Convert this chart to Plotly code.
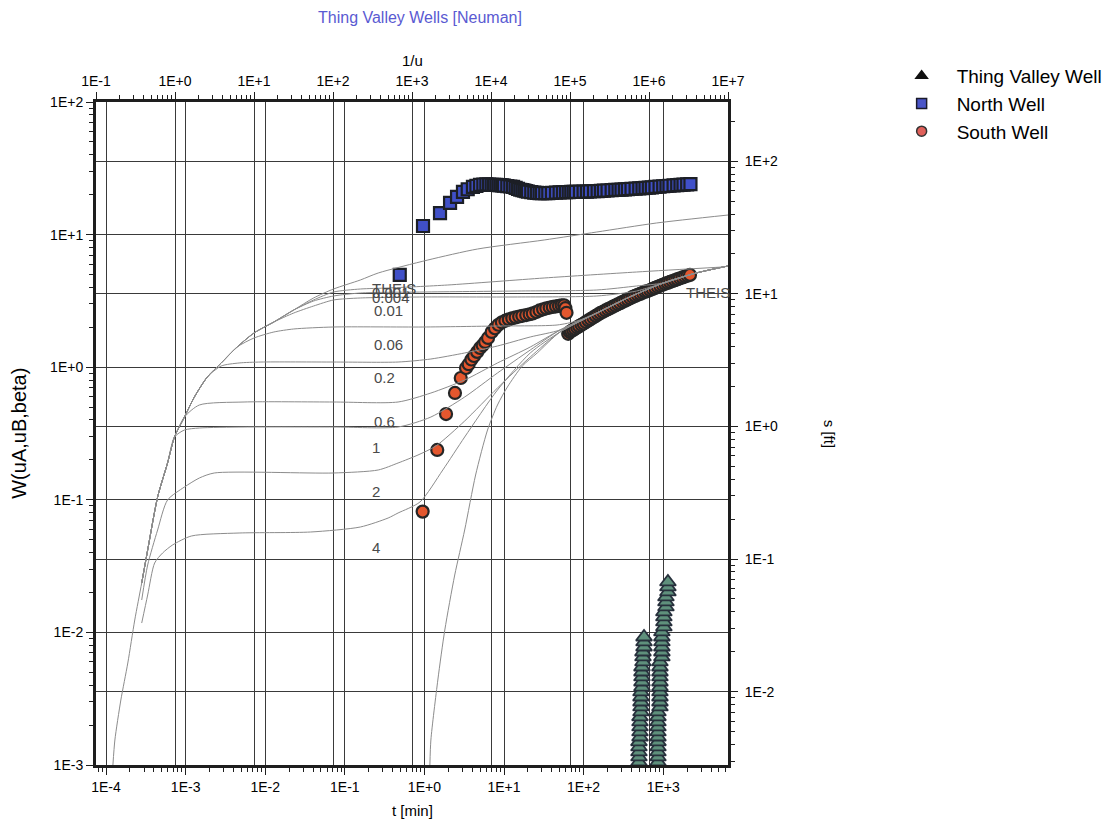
import plotly.graph_objects as go

# ---------------- observed drawdown data: t [min], s [ft] ----------------
north_t = [0.49, 0.96, 1.57, 2.1, 2.57, 3.05, 3.5, 4.07, 4.5, 5.0, 5.5, 6, 6.5, 7, 7.5, 8, 8.5, 9, 9.5, 10, 11,
           12, 13, 14, 15, 16, 17, 18, 19, 20, 22, 24, 26, 28, 30, 33, 36, 40, 45, 50, 55, 60, 65, 70, 75, 80,
           90, 100, 110, 120, 135, 150, 165, 180, 200, 225, 250, 275, 300, 330, 360, 400, 450, 500, 550, 600,
           660, 720, 800, 900, 1000, 1100, 1200, 1350, 1500, 1650, 1800, 2000, 2200]
north_s = [13.9, 32.5, 40.7, 48.5, 53.8, 58.7, 61.5, 64, 65.3, 66.3, 66.8, 67, 66.8, 66.5, 66.4, 66.3, 66.2,
           66, 65.8, 65.5, 65, 64.5, 64, 63, 62, 61, 60.5, 60, 59.5, 59, 58.5, 58, 57.8, 57.6, 57.5, 57.5, 57.6,
           57.8, 58, 58.2, 58.4, 58.5, 58.6, 58.7, 58.75, 58.8, 58.9, 59, 59.1, 59.2, 59.4, 59.6, 59.8, 60,
           60.2, 60.5, 60.8, 61, 61.2, 61.4, 61.6, 61.9, 62.2, 62.5, 62.8, 63, 63.3, 63.6, 64, 64.4, 64.8,
           65.1, 65.4, 65.8, 66.1, 66.4, 66.7, 67, 67.3]

south_t = [0.95, 1.45, 1.87, 2.42, 2.86, 3.33, 3.6, 3.9, 4.2, 4.6, 5.0, 5.4, 5.8, 6.3, 7.0, 7.7, 8.5, 9.4,
           10.4, 11.5, 12.7, 14, 15.5, 17, 19, 21, 23, 25.5, 28, 31, 34, 37.5, 41, 45, 49, 53, 57, 59, 61,
           64, 67, 70, 74, 78, 83, 88, 94, 100, 107, 115, 123, 132, 142, 152, 163, 175, 188, 202, 217, 233,
           250, 268, 288, 310, 333, 358, 385, 414, 445, 478, 514, 552, 593, 637, 685, 736, 791, 850, 914,
           982, 1055, 1134, 1219, 1310, 1408, 1513, 1626, 1748, 1879, 2020, 2170]
south_s = [0.228, 0.665, 1.24, 1.79, 2.32, 2.76, 2.95, 3.2, 3.4, 3.65, 3.91, 4.1, 4.34, 4.65, 5.16, 5.5, 5.85,
           6.1, 6.28, 6.42, 6.55, 6.65, 6.75, 6.83, 6.92, 7.02, 7.12, 7.3, 7.5, 7.65, 7.78, 7.88, 7.97, 8.05,
           8.12, 8.2, 8.2, 7.8, 7.2,
           5.0, 5.15, 5.24, 5.35, 5.46, 5.58, 5.71, 5.85, 5.98, 6.14, 6.31, 6.47, 6.64, 6.82, 7.0, 7.18, 7.33,
           7.5, 7.66, 7.82, 8.0, 8.17, 8.34, 8.51, 8.71, 8.89, 9.08, 9.27, 9.48, 9.66, 9.84, 10.0, 10.2, 10.4,
           10.5, 10.7, 10.9, 11.1, 11.3, 11.5, 11.7, 11.9, 12.1, 12.3, 12.5, 12.7, 12.9, 13.1, 13.3, 13.5,
           13.7, 13.9]

tv_t = [496, 496, 496, 496, 496, 511, 511, 511, 511, 511, 526, 526, 526, 526, 526, 541, 541, 541, 541, 541,
        557, 557, 557, 574, 574, 574,
        859, 859, 859, 859, 859, 859, 859, 859, 859, 859, 859, 910, 910, 910, 910, 910, 910, 910, 910, 910,
        910, 963, 963, 963, 963, 963, 963, 1020, 1020, 1020, 1020, 1083, 1083, 1083, 1146, 1146, 1146]
tv_s = [0.00295, 0.00322, 0.00351, 0.00383, 0.00418, 0.00455, 0.00497, 0.00542, 0.00591, 0.00645, 0.00703,
        0.00767, 0.00836, 0.00912, 0.00995, 0.01084, 0.01183, 0.01291, 0.01407, 0.01535, 0.01675, 0.01827,
        0.01992, 0.02173, 0.02371, 0.02585,
        0.00295, 0.00322, 0.00351, 0.00383, 0.00418, 0.00455, 0.00497, 0.00542, 0.00591, 0.00645, 0.00703,
        0.00767, 0.00836, 0.00912, 0.00995, 0.01084, 0.01183, 0.01291, 0.01407, 0.01535, 0.01675, 0.01827,
        0.01992, 0.02173, 0.02371, 0.02585, 0.02820, 0.03076, 0.03356, 0.03660, 0.03992, 0.04355, 0.04750,
        0.05181, 0.05652, 0.06165, 0.06724]

# ---------------- Neuman type curves: 1/u, W(uA,uB,beta) ----------------
theis_early_u = [0.1637, 0.1734, 0.2063, 0.2527, 0.3094, 0.379, 0.4509, 0.6025, 0.8049, 0.9856, 1.317, 1.759,
                 2.564, 3.845, 6.112, 10.0, 17.85, 31.86, 56.85, 101.5, 221.8, 373.5, 1590, 6762, 47100,
                 218600, 1.243e6, 1.0e7]
theis_early_w = [0.0010, 0.001543, 0.003092, 0.005879, 0.01240, 0.02358, 0.04181, 0.1050, 0.1895, 0.2976,
                 0.4210, 0.5959, 0.8435, 1.076, 1.420, 1.811, 2.193, 2.701, 3.327, 3.888, 4.546, 5.133, 6.433,
                 7.787, 9.106, 10.46, 12.23, 14.05]

theis_late_u = [1684, 1734, 2123, 2601, 3474, 4642, 6383, 9036, 12070, 16130, 24900, 38450, 74850, 218600,
                568500, 1.521e6, 3.959e6, 1.0e7]
theis_late_w = [0.0010, 0.001543, 0.004375, 0.01043, 0.02709, 0.05918, 0.1538, 0.3360, 0.5187, 0.7091,
                1.021, 1.280, 1.843, 2.563, 3.385, 4.315, 5.133, 5.798]

b0001_u = [0.379, 0.4509, 0.6025, 0.8049, 0.9856, 1.317, 1.759, 2.564, 3.845, 6.112, 10.0, 17.85, 31.86,
           56.85, 101.5, 221.8, 499.0, 2837, 47100, 696200, 8.6e6]
b0001_w = [0.02358, 0.04181, 0.1050, 0.1895, 0.2976, 0.4210, 0.5959, 0.8435, 1.076, 1.420, 1.811, 2.193,
           2.701, 3.213, 3.690, 3.888, 3.956, 4.168, 4.707, 5.223, 5.698]

b0004_u = [0.379, 0.4509, 0.6025, 0.8049, 0.9856, 1.317, 1.759, 2.564, 3.845, 6.112, 10.0, 17.85, 31.86,
           56.85, 101.5, 221.8, 1375, 21540, 218600, 696200, 1.521e6, 3.959e6, 1.0e7]
b0004_w = [0.02358, 0.04181, 0.1050, 0.1895, 0.2976, 0.4210, 0.5959, 0.8435, 1.076, 1.420, 1.811, 2.193,
           2.701, 3.157, 3.443, 3.627, 3.690, 3.755, 3.821, 4.097, 4.315, 5.133, 5.798]

b001_u = [0.379, 0.4509, 0.6025, 0.8049, 0.9856, 1.317, 1.759, 2.564, 3.845, 6.112, 10.0, 17.85, 31.86,
          56.85, 101.5, 221.8, 1375, 21540, 218600, 696200, 1.521e6, 3.959e6, 1.0e7]
b001_w = [0.02358, 0.04181, 0.1050, 0.1895, 0.2976, 0.4210, 0.5959, 0.8435, 1.076, 1.420, 1.811, 2.193,
          2.563, 2.894, 3.213, 3.327, 3.385, 3.385, 3.443, 3.755, 4.315, 5.133, 5.798]

b006_u = [0.379, 0.4509, 0.6025, 0.8049, 0.9856, 1.317, 1.759, 2.564, 3.845, 6.112, 10.0, 17.85, 31.86,
          101.5, 1375, 12070, 68630, 122500, 218600, 568500, 1.521e6, 3.959e6, 1.0e7]
b006_w = [0.02358, 0.04181, 0.1050, 0.1895, 0.2976, 0.4210, 0.5959, 0.8435, 1.076, 1.420, 1.660, 1.843,
          1.942, 2.010, 2.010, 2.045, 2.081, 2.231, 2.563, 3.385, 4.315, 5.133, 5.798]

b02_u = [0.379, 0.4509, 0.6025, 0.8049, 0.9856, 1.317, 1.759, 2.564, 3.845, 6.476, 12.25, 101.5, 666.6,
         1734, 4642, 12070, 31400, 74850, 218600, 568500, 1.521e6, 3.959e6, 1.0e7]
b02_w = [0.02358, 0.04181, 0.1050, 0.1895, 0.2976, 0.4210, 0.5959, 0.8435, 1.021, 1.076, 1.094, 1.094,
         1.094, 1.153, 1.280, 1.445, 1.690, 1.908, 2.563, 3.385, 4.315, 5.133, 5.798]

b06_u = [0.379, 0.4509, 0.6025, 0.8049, 0.9856, 1.317, 2.033, 7.484, 101.5, 666.6, 1734, 4642, 12070,
         31400, 74850, 218600, 568500, 1.521e6, 3.959e6, 1.0e7]
b06_w = [0.02358, 0.04181, 0.1050, 0.1895, 0.2976, 0.4210, 0.5187, 0.5465, 0.5465, 0.5465, 0.6387, 0.8007,
         1.076, 1.420, 1.908, 2.563, 3.385, 4.315, 5.133, 5.798]

b1_u = [0.379, 0.4509, 0.6025, 0.8049, 0.9856, 1.317, 2.033, 7.484, 101.5, 666.6, 1734, 4642, 12070,
        31400, 74850, 218600, 568500, 1.521e6, 3.959e6, 1.0e7]
b1_w = [0.02358, 0.04181, 0.1050, 0.1895, 0.2976, 0.3360, 0.3479, 0.3540, 0.3540, 0.3540, 0.4210, 0.5959,
        0.9044, 1.348, 1.908, 2.563, 3.385, 4.315, 5.133, 5.798]

b2_u = [0.379, 0.4509, 0.6025, 0.8049, 1.317, 2.033, 3.140, 101.5, 373.5, 666.6, 1190, 2004, 4642, 12070,
        31400, 74850, 218600, 568500, 1.521e6, 3.959e6, 1.0e7]
b2_w = [0.01755, 0.03224, 0.05918, 0.09965, 0.1249, 0.1460, 0.1593, 0.1593, 0.1678, 0.1895, 0.2177, 0.2544,
        0.3929, 0.6968, 1.194, 1.843, 2.563, 3.385, 4.315, 5.133, 5.798]

b4_u = [0.379, 0.4509, 0.5523, 0.6964, 0.9302, 1.613, 6.476, 52.12, 221.8, 499.0, 666.6, 1261, 2454, 4642,
        12070, 31400, 74850, 218600, 568500, 1.521e6, 3.959e6, 1.0e7]
b4_w = [0.01177, 0.01914, 0.03337, 0.03970, 0.04561, 0.05333, 0.05618, 0.05717, 0.06235, 0.07290, 0.07954,
        0.09625, 0.1678, 0.2976, 0.6731, 1.280, 1.843, 2.563, 3.385, 4.315, 5.133, 5.798]

curve_sets = [(theis_early_u, theis_early_w), (theis_late_u, theis_late_w), (b0001_u, b0001_w),
              (b0004_u, b0004_w), (b001_u, b001_w), (b006_u, b006_w), (b02_u, b02_w), (b06_u, b06_w),
              (b1_u, b1_w), (b2_u, b2_w), (b4_u, b4_w)]

# curve labels (text, log10(1/u), log10(W))
curve_labels = ["THEIS", "0.001", "0.004", "0.01", "0.06", "0.2", "0.6", "1", "2", "4", "THEIS"]
label_x = [2.472, 2.472, 2.472, 2.497, 2.497, 2.497, 2.497, 2.472, 2.472, 2.472, 6.44]
label_y = [0.597, 0.560, 0.522, 0.431, 0.175, -0.081, -0.406, -0.609, -0.941, -1.356, 0.560]

# axis ticks
t_ticks = [1e-4, 1e-3, 1e-2, 1e-1, 1e0, 1e1, 1e2, 1e3]
t_text = ["1E-4", "1E-3", "1E-2", "1E-1", "1E+0", "1E+1", "1E+2", "1E+3"]
u_ticks = [1e-1, 1e0, 1e1, 1e2, 1e3, 1e4, 1e5, 1e6, 1e7]
u_text = ["1E-1", "1E+0", "1E+1", "1E+2", "1E+3", "1E+4", "1E+5", "1E+6", "1E+7"]
w_ticks = [1e-3, 1e-2, 1e-1, 1e0, 1e1, 1e2]
w_text = ["1E-3", "1E-2", "1E-1", "1E+0", "1E+1", "1E+2"]
s_ticks = [1e-2, 1e-1, 1e0, 1e1, 1e2]
s_text = ["1E-2", "1E-1", "1E+0", "1E+1", "1E+2"]


def minor_vals(lo, hi):
    return [k * 10.0 ** e for e in range(lo, hi) for k in range(2, 10)]


FONT = "Liberation Sans, Arial, sans-serif"
GRID = "#3a3a3a"
FRAME = "#1e1e1e"

fig = go.Figure()

# base subplot (registers the x/y pair so that the overlays stack correctly)
fig.add_trace(go.Scatter(x=[None], y=[None], xaxis="x", yaxis="y", mode="markers",
                         showlegend=False, hoverinfo="skip"))

for cu, cw in curve_sets:
    fig.add_trace(go.Scatter(x=cu, y=cw, xaxis="x2", yaxis="y", mode="lines",
                             line=dict(color="#8c8c8c", width=1, shape="spline", smoothing=0.7),
                             showlegend=False, hoverinfo="skip"))

fig.add_trace(go.Scatter(x=tv_t, y=tv_s, xaxis="x", yaxis="y2", mode="markers", showlegend=False,
                         marker=dict(symbol="triangle-up", size=14, color="#5f907c",
                                     line=dict(color="#27303c", width=1.8))))
fig.add_trace(go.Scatter(x=north_t, y=north_s, xaxis="x", yaxis="y2", mode="markers", showlegend=False,
                         marker=dict(symbol="square", size=12, color="#4050c8",
                                     line=dict(color="#1c1f26", width=2.2))))
fig.add_trace(go.Scatter(x=south_t, y=south_s, xaxis="x", yaxis="y2", mode="markers", showlegend=False,
                         marker=dict(symbol="circle", size=12, color="#e4572e",
                                     line=dict(color="#262626", width=2.2))))

# legend entries
legend_names = ["Thing Valley Well", "North Well", "South Well"]
legend_symbols = ["triangle-up", "square", "circle"]
legend_fill = ["#111111", "#4a55c8", "#e0605a"]
legend_line = ["#111111", "#1a1a2a", "#333333"]
for i in range(3):
    fig.add_trace(go.Scatter(x=[None], y=[None], xaxis="x", yaxis="y2", mode="markers",
                             name=legend_names[i], legendgroup=legend_names[i],
                             marker=dict(symbol=legend_symbols[i], size=10, color=legend_fill[i],
                                         line=dict(color=legend_line[i], width=1.5))))

annotations = []
for txt, lx, ly in zip(curve_labels, label_x, label_y):
    annotations.append(dict(text=txt, x=lx, y=ly, xref="x2", yref="y", showarrow=False,
                            xanchor="left", yanchor="middle",
                            font=dict(family=FONT, size=15, color="#4a4a4a")))

annotations += [
    dict(text="Thing Valley Wells [Neuman]", xref="paper", yref="paper", x=0.513, y=1.127,
         showarrow=False, xanchor="center", yanchor="middle",
         font=dict(family=FONT, size=16, color="#5a5ad2")),
    dict(text="1/u", xref="paper", yref="paper", x=0.501, y=1.063, showarrow=False,
         xanchor="center", yanchor="middle", font=dict(family=FONT, size=15, color="black")),
    dict(text="t [min]", xref="paper", yref="paper", x=0.501, y=-0.068, showarrow=False,
         xanchor="center", yanchor="middle", font=dict(family=FONT, size=15, color="black")),
    dict(text="W(uA,uB,beta)", xref="paper", yref="paper", x=-0.123, y=0.5, showarrow=False,
         textangle=-90, xanchor="center", yanchor="middle", font=dict(family=FONT, size=20, color="black")),
    dict(text="s [ft]", xref="paper", yref="paper", x=1.161, y=0.5, showarrow=False,
         textangle=90, xanchor="center", yanchor="middle", font=dict(family=FONT, size=15, color="black")),
]

axis_common = dict(type="log", showgrid=True, gridcolor=GRID, gridwidth=1, zeroline=False,
                   showline=True, linecolor=FRAME, linewidth=3, ticks="outside", ticklen=7,
                   tickcolor=FRAME, tickwidth=1, tickfont=dict(family=FONT, size=14, color="black"))

fig.update_layout(
    width=1118, height=829,
    margin=dict(l=96, r=390, t=102, b=64, autoexpand=False),
    paper_bgcolor="white", plot_bgcolor="white",
    showlegend=True,
    legend=dict(x=1.251, y=1.068, xanchor="left", yanchor="top", tracegroupgap=0, itemwidth=60,
                font=dict(family=FONT, size=19, color="black"), bgcolor="rgba(0,0,0,0)"),
    annotations=annotations,
    xaxis=dict(axis_common, range=[-4.126, 3.814], side="bottom", anchor="y",
               tickvals=t_ticks, ticktext=t_text,
               minor=dict(tickvals=minor_vals(-5, 4), ticks="outside", ticklen=4, tickcolor=FRAME,
                          showgrid=False)),
    xaxis2=dict(axis_common, range=[-1.0, 7.0], side="top", overlaying="x", anchor="y",
                tickvals=u_ticks, ticktext=u_text,
                minor=dict(tickvals=minor_vals(-1, 7), ticks="outside", ticklen=4, tickcolor=FRAME,
                           showgrid=False)),
    yaxis=dict(axis_common, range=[-3, 2], side="left", anchor="x",
               tickvals=w_ticks, ticktext=w_text,
               minor=dict(tickvals=minor_vals(-3, 2), ticks="outside", ticklen=4, tickcolor=FRAME,
                          showgrid=False)),
    yaxis2=dict(axis_common, range=[-2.553, 2.447], side="right", overlaying="y", anchor="x",
                tickvals=s_ticks, ticktext=s_text, ticklabelstandoff=4,
                minor=dict(tickvals=minor_vals(-3, 3), ticks="outside", ticklen=4, tickcolor=FRAME,
                           showgrid=False)),
)

fig.write_html("out.html")
